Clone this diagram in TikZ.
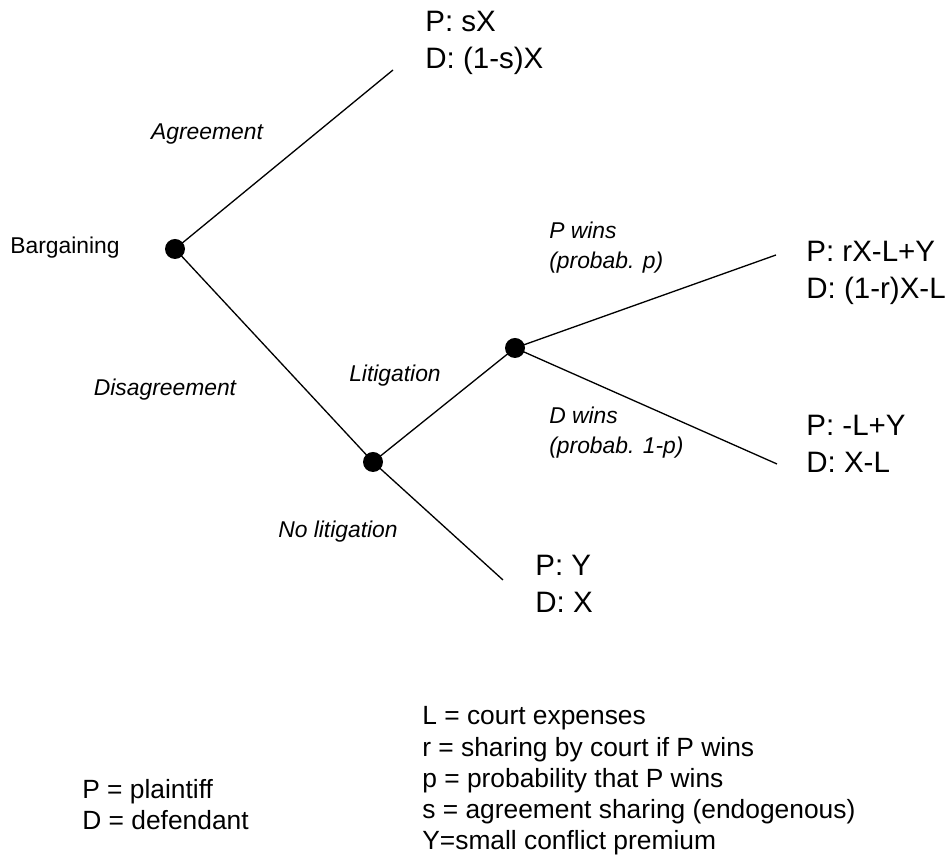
\documentclass[tikz,border=0pt]{standalone}
\usepackage{fontspec}
\setmainfont{Liberation Sans}
\usetikzlibrary{positioning}
\tikzset{
  gt dot/.style={circle, fill=black, draw=none, minimum size=4mm, inner sep=0pt},
  gt branch/.style={draw=black, line width=0.75pt},
  gt label/.style={font=\fontsize{13}{17}\selectfont\itshape, inner sep=0pt, align=left},
  gt pay/.style={font=\fontsize{16.8}{21}\selectfont, inner sep=0pt, align=left, anchor=west},
  gt key/.style={font=\fontsize{15}{17.8}\selectfont, inner sep=0pt, align=left, anchor=west}
}
\begin{document}
\begin{tikzpicture}[x=1cm, y=1cm]
  \useasboundingbox (0,0) rectangle (18.98,17.18);
  % decision nodes
  \node[gt dot] (bargain) at (3.50,12.20) {};
  \node[gt dot] (dispute) at (7.46,7.94) {};
  \node[gt dot] (court) at (10.30,10.22) {};
  \coordinate (agreeEnd) at (7.86,15.78);
  \coordinate (pwinEnd) at (15.52,12.08);
  \coordinate (dwinEnd) at (15.54,7.90);
  \coordinate (nolitEnd) at (10.06,5.58);
  % branches
  \draw[gt branch] (bargain.center) -- (agreeEnd);
  \draw[gt branch] (bargain.center) -- (dispute.center);
  \draw[gt branch] (dispute.center) -- (court.center);
  \draw[gt branch] (court.center) -- (pwinEnd);
  \draw[gt branch] (court.center) -- (dwinEnd);
  \draw[gt branch] (dispute.center) -- (nolitEnd);
  % branch labels
  \node[font=\fontsize{13}{17}\selectfont, inner sep=0pt, anchor=west] (bargainLbl) at (0.20,12.22) {Bargaining};
  \node[gt label] (agreeLbl) at (4.14,14.50) {Agreement};
  \node[gt label] (disagreeLbl) at (3.30,9.38) {Disagreement};
  \node[gt label] (litLbl) at (7.90,9.66) {Litigation};
  \node[gt label] (nolitLbl) at (6.76,6.54) {No litigation};
  \node[gt label, anchor=west] (pwinLbl) at (10.98,12.22) {P wins\\(probab. p)};
  \node[gt label, anchor=west] (dwinLbl) at (10.98,8.53) {D wins\\(probab. 1-p)};
  % payoffs
  \node[gt pay] (agreePay) at (8.50,16.32) {P: sX\\D: (1-s)X};
  \node[gt pay] (pwinPay) at (16.12,11.73) {P: rX-L+Y\\D: (1-r)X-L};
  \node[gt pay] (dwinPay) at (16.12,8.31) {P: -L+Y\\D: X-L};
  \node[gt pay] (nolitPay) at (10.70,5.50) {P: Y\\D: X};
  % legend
  \node[gt key, font=\fontsize{15}{17.4}\selectfont] (partyKey) at (1.64,1.09) {P = plaintiff\\D = defendant};
  \node[gt key] (symKey) at (8.44,1.56) {L = court expenses\\r = sharing by court if P wins\\p = probability that P wins\\s = agreement sharing (endogenous)\\Y=small conflict premium};
\end{tikzpicture}
\end{document}
